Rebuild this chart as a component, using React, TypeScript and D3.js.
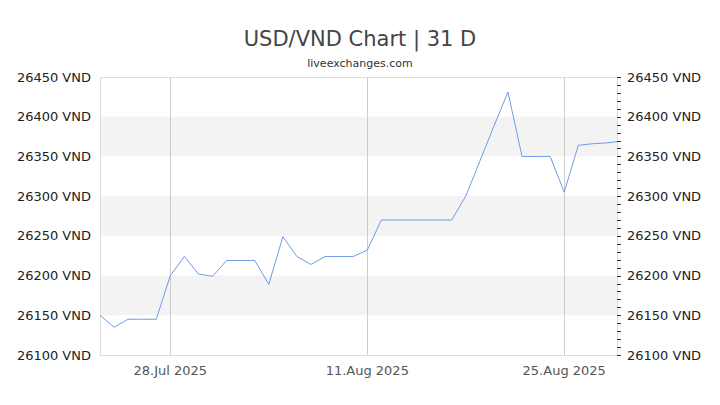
import * as d3 from 'd3';

// USD/VND daily closes
const DATES = [
  '2025-07-23', '2025-07-24', '2025-07-25', '2025-07-26', '2025-07-27', '2025-07-28', '2025-07-29',
  '2025-07-30', '2025-07-31', '2025-08-01', '2025-08-02', '2025-08-03', '2025-08-04', '2025-08-05',
  '2025-08-06', '2025-08-07', '2025-08-08', '2025-08-09', '2025-08-10', '2025-08-11', '2025-08-12',
  '2025-08-13', '2025-08-14', '2025-08-15', '2025-08-16', '2025-08-17', '2025-08-18', '2025-08-19',
  '2025-08-20', '2025-08-21', '2025-08-22', '2025-08-23', '2025-08-24', '2025-08-25', '2025-08-26',
  '2025-08-27', '2025-08-28', '2025-08-29',
];
const RATES = [
  26150, 26135, 26145, 26145, 26145, 26200, 26224,
  26202, 26199, 26219, 26219, 26219, 26189, 26249,
  26224, 26214, 26224, 26224, 26224, 26232, 26270,
  26270, 26270, 26270, 26270, 26270, 26300, 26344,
  26388, 26431, 26350, 26350, 26350, 26305, 26364,
  26366, 26367, 26369,
];
const Y_TICKS = [26100, 26150, 26200, 26250, 26300, 26350, 26400, 26450];
const X_TICKS = ['2025-07-28', '2025-08-11', '2025-08-25'];
const X_TICK_LABELS = ['28.Jul 2025', '11.Aug 2025', '25.Aug 2025'];

const FONT = 'DejaVu Sans, sans-serif';

export default function App() {
  const w = 720;
  const h = 405;
  const left = 100;
  const right = 617;
  const top = 77;
  const bottom = 355;

  const parse = d3.timeParse('%Y-%m-%d');
  const data = DATES.map((d, i) => ({ date: parse(d) as Date, value: RATES[i] }));

  // last point sits just past the right edge, clipped like the original
  const x = d3.scaleTime()
    .domain(d3.extent(data, d => d.date) as [Date, Date])
    .range([left, 620.5]);

  const y = d3.scaleLinear()
    .domain([26100, 26450])
    .range([bottom, top]);

  const line = d3.line<{ date: Date; value: number }>()
    .x(d => x(d.date))
    .y(d => y(d.value));

  const minorTicks = d3.range(26100, 26451, 10);

  return (
    <svg width={w} height={h} style={{ position: 'absolute', left: 0, top: 0, background: '#fff' }}>
      <defs>
        <clipPath id="plot">
          <rect x={left} y={top - 2} width={right - left} height={bottom - top + 4} />
        </clipPath>
      </defs>

      {/* Title */}
      <text x={w / 2} y={46} textAnchor="middle" fontSize={21} fontFamily={FONT} fill="#444">
        USD/VND Chart | 31 D
      </text>
      <text x={w / 2} y={67} textAnchor="middle" fontSize={11} fontFamily={FONT} fill="#333">
        liveexchanges.com
      </text>

      {/* Alternate bands */}
      {Y_TICKS.slice(0, -1).map((t, i) =>
        i % 2 === 1 ? (
          <rect key={t} x={left} y={y(t + 50)} width={right - left} height={y(t) - y(t + 50)} fill="#f3f3f3" />
        ) : null
      )}

      {/* Vertical grid */}
      {X_TICKS.map(t => {
        const xx = Math.round(x(parse(t) as Date)) + 0.5;
        return <line key={t} x1={xx} x2={xx} y1={top} y2={bottom} stroke="#ccc" />;
      })}

      {/* Frame */}
      <rect x={left + 0.5} y={top + 0.5} width={right - left} height={bottom - top} fill="none" stroke="#ddd" />

      {/* Series */}
      <path d={line(data) ?? ''} fill="none" stroke="#6f9be8" strokeWidth={1} clipPath="url(#plot)" />

      {/* Right minor ticks */}
      {minorTicks.map(t => (
        <line key={t} x1={right} x2={right + 4} y1={Math.round(y(t)) + 0.5} y2={Math.round(y(t)) + 0.5} stroke="#333" />
      ))}

      {/* Y labels both sides */}
      {Y_TICKS.map(t => (
        <g key={t}>
          <text x={91} y={y(t) + 4.5} textAnchor="end" fontSize={13} fontFamily={FONT} fill="#222">
            {t} VND
          </text>
          <text x={627} y={y(t) + 4.5} fontSize={13} fontFamily={FONT} fill="#222">
            {t} VND
          </text>
        </g>
      ))}

      {/* X labels */}
      {X_TICKS.map((t, i) => (
        <text key={t} x={x(parse(t) as Date)} y={375} textAnchor="middle" fontSize={13} fontFamily={FONT} fill="#555">
          {X_TICK_LABELS[i]}
        </text>
      ))}
    </svg>
  );
}
